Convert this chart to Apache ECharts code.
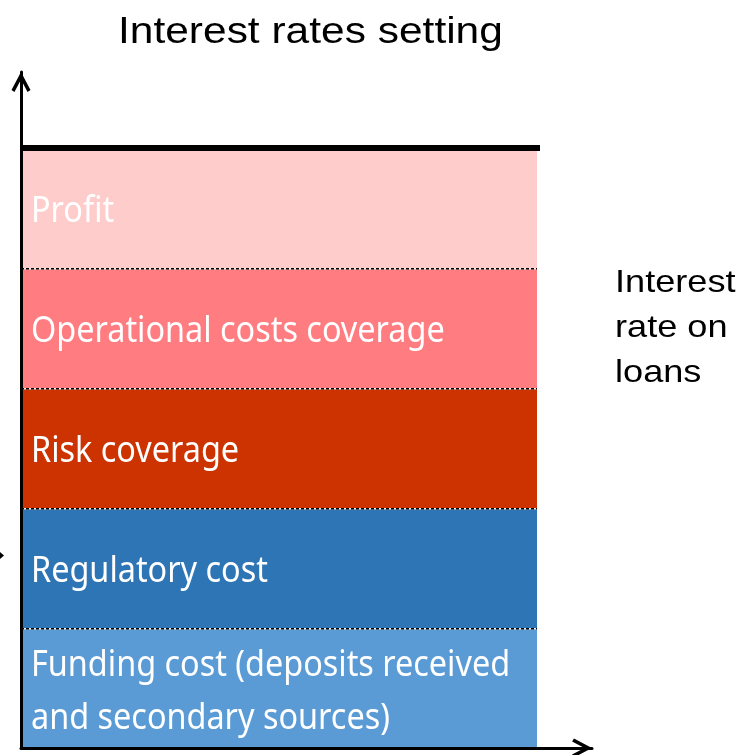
<!DOCTYPE html>
<html>
<head>
<meta charset="utf-8">
<script src="https://cdn.jsdelivr.net/npm/echarts@6/dist/echarts.min.js"></script>
<style>
  html, body { margin: 0; padding: 0; background: #ffffff; }
  #chart { width: 745px; height: 755px; }
</style>
</head>
<body>
<div id="chart"></div>
<script>
// Components of the loan interest rate, bottom to top
const layerNames = [
  'Funding cost (deposits received\nand secondary sources)',
  'Regulatory cost',
  'Risk coverage',
  'Operational costs coverage',
  'Profit'
];
const layerValues = [1, 1, 1, 1, 1];
const layerColors = ['#5B9BD5', '#2E75B6', '#CC3300', '#FF7C80', '#FFCCCC'];

const titleText = 'Interest rates setting';
const sideText = 'Interest\nrate on\nloans';

// Stack the layers: [x0, x1, from, to, index]
const layers = [];
let running = 0;
layerValues.forEach(function (v, i) {
  layers.push([0, 1, running, running + v, i]);
  running += v;
});
const stackTotal = running;

// Axes run a little past the column so their arrowheads stand clear
const xMax = 571 / 516;
const yMax = stackTotal * 676 / 600;

// Open chevron used as the arrowhead on both axes
const chevron = 'path://M0,17 L9,0 L18,17 L15.2,18.8 L9,7 L2.8,18.8 Z';

const labelFont = '"Noto Sans", "Noto Sans CJK KR", sans-serif';
const headFont = '"Liberation Sans", Arial, sans-serif';

function renderLayer(params, api) {
  const i = api.value(4);
  const p0 = api.coord([api.value(0), api.value(2)]);
  const p1 = api.coord([api.value(1), api.value(3)]);
  const left = p0[0], right = p1[0], bottom = p0[1], top = p1[1];
  const children = [
    {
      type: 'rect',
      shape: { x: left, y: top, width: right - left, height: bottom - top },
      style: { fill: layerColors[i] }
    },
    {
      type: 'text',
      x: left + 10,
      y: (top + bottom) / 2 + 4,
      scaleX: 0.9,
      style: {
        text: layerNames[i],
        x: 0,
        y: 0,
        fill: '#ffffff',
        fontSize: 36,
        fontFamily: labelFont,
        lineHeight: 53,
        align: 'left',
        verticalAlign: 'middle'
      }
    }
  ];
  if (i < layerNames.length - 1) {
    // dotted divider on the top edge of each inner layer
    children.push({
      type: 'line',
      shape: { x1: left, y1: top, x2: right, y2: top },
      style: { stroke: '#eeeeee', lineWidth: 3 }
    });
    children.push({
      type: 'line',
      shape: { x1: left, y1: top, x2: right, y2: top },
      style: { stroke: '#000000', lineWidth: 3, lineDash: [3, 2] }
    });
  } else {
    // heavy cap line over the whole stack
    children.push({
      type: 'line',
      shape: { x1: left, y1: top, x2: right + 3, y2: top },
      style: { stroke: '#000000', lineWidth: 6 }
    });
  }
  return { type: 'group', children: children };
}

const axisCommon = {
  type: 'value',
  min: 0,
  z: 10,
  axisLine: {
    show: true,
    onZero: true,
    lineStyle: { color: '#000000', width: 3 },
    symbol: ['none', chevron],
    symbolSize: [19, 21],
    symbolOffset: [0, -10]
  },
  axisTick: { show: false },
  axisLabel: { show: false },
  splitLine: { show: false }
};

const chart = echarts.init(document.getElementById('chart'), null, { renderer: 'canvas' });
chart.setOption({
  animation: false,
  backgroundColor: '#ffffff',
  grid: { left: 21, right: 153, top: 72, bottom: 7 },
  xAxis: Object.assign({}, axisCommon, { max: xMax }),
  yAxis: Object.assign({}, axisCommon, { max: yMax }),
  graphic: [
    {
      type: 'text',
      x: 118,
      y: 33,
      scaleX: 1.18,
      style: {
        text: titleText,
        x: 0,
        y: 0,
        fill: '#000000',
        fontSize: 36,
        fontFamily: headFont,
        align: 'left',
        verticalAlign: 'middle'
      }
    },
    {
      type: 'text',
      x: 615,
      y: 261,
      scaleX: 1.13,
      style: {
        text: sideText,
        x: 0,
        y: 0,
        fill: '#000000',
        fontSize: 32,
        fontFamily: headFont,
        lineHeight: 45,
        align: 'left',
        verticalAlign: 'top'
      }
    },
    {
      type: 'polygon',
      shape: { points: [[0, 552], [4, 555.5], [0, 559]] },
      style: { fill: '#000000' }
    }
  ],
  series: [{
    type: 'custom',
    renderItem: renderLayer,
    data: layers,
    encode: { x: [0, 1], y: [2, 3] },
    z: 2
  }]
});
</script>
</body>
</html>
